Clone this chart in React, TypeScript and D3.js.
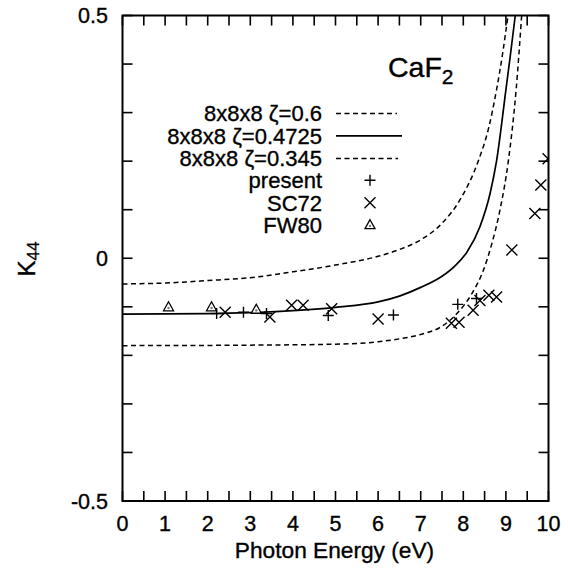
import React from "react";
import * as d3 from "d3";

// ---- data ----
const curveUpperX = [0, 1, 2, 3, 4, 5, 6, 6.5, 7, 7.5, 7.92, 8.35, 8.6, 8.78, 8.92, 9.05];
const curveUpperY = [-0.053, -0.051, -0.046, -0.04, -0.028, -0.014, 0.004, 0.018, 0.038, 0.072, 0.12, 0.2, 0.27, 0.347, 0.42, 0.5];

const curveMidX = [0, 2, 3, 4, 5, 6, 6.5, 7, 7.5, 7.8, 8.08, 8.39, 8.63, 8.78, 9.0, 9.1, 9.22];
const curveMidY = [-0.115, -0.114, -0.112, -0.108, -0.101, -0.09, -0.078, -0.06, -0.037, -0.016, 0.012, 0.065, 0.134, 0.2, 0.347, 0.415, 0.5];

const curveLowerX = [0, 3, 5, 6, 6.5, 7, 7.5, 7.85, 8.2, 8.47, 8.67, 8.86, 9.06, 9.24, 9.37];
const curveLowerY = [-0.18, -0.179, -0.177, -0.172, -0.166, -0.157, -0.14, -0.114, -0.073, -0.025, 0.03, 0.099, 0.202, 0.347, 0.5];

const presentX = [2.21, 2.84, 3.38, 4.83, 6.36, 7.87, 8.31];
const presentY = [-0.114, -0.111, -0.114, -0.118, -0.117, -0.095, -0.083];

const sc72X = [2.41, 3.46, 3.97, 4.24, 4.91, 6.0, 7.72, 7.9, 8.23, 8.39, 8.6, 8.78, 9.14, 9.68, 9.82, 9.99];
const sc72Y = [-0.111, -0.121, -0.097, -0.097, -0.104, -0.125, -0.134, -0.132, -0.107, -0.087, -0.076, -0.08, 0.017, 0.092, 0.151, 0.205];

const fw80X = [1.08, 2.09, 3.14];
const fw80Y = [-0.1, -0.1, -0.105];

const xTickLabels = ["0", "1", "2", "3", "4", "5", "6", "7", "8", "9", "10"];
const yTickLabels = ["-0.5", "0", "0.5"];
const legendLabels = ["8x8x8 \u03b6=0.6", "8x8x8 \u03b6=0.4725", "8x8x8 \u03b6=0.345", "present", "SC72", "FW80"];

// ---- layout ----
const W = 568, H = 574;
const L = 122.5, R = 548.5, T = 15.5, B = 501;
const FONT = "'Liberation Sans', Arial, Helvetica, sans-serif";
const TS = { stroke: "#000", strokeWidth: 0.35 };

export default function App() {
  const x = d3.scaleLinear().domain([0, 10]).range([L, R]);
  const y = d3.scaleLinear().domain([-0.5, 0.5]).range([B, T]);
  const line = d3.line<[number, number]>().x(d => x(d[0])).y(d => y(d[1])).curve(d3.curveMonotoneX);
  const pts = (xs: number[], ys: number[]) => xs.map((v, i) => [v, ys[i]] as [number, number]);

  const xMinor = d3.range(0, 10.01, 0.5);
  const yMinor = d3.range(-0.5, 0.501, 0.1);

  const plus = (cx: number, cy: number, k: string) => (
    <path key={k} d={`M${cx - 5.5},${cy}H${cx + 5.5}M${cx},${cy - 5.5}V${cy + 5.5}`} stroke="#000" strokeWidth={1.4} fill="none" />
  );
  const cross = (cx: number, cy: number, k: string) => (
    <path key={k} d={`M${cx - 5.5},${cy - 5.5}L${cx + 5.5},${cy + 5.5}M${cx - 5.5},${cy + 5.5}L${cx + 5.5},${cy - 5.5}`} stroke="#000" strokeWidth={1.4} fill="none" />
  );
  const tri = (cx: number, cy: number, k: string) => (
    <g key={k}>
      <path d={`M${cx},${cy - 5}L${cx + 5},${cy + 4}L${cx - 5},${cy + 4}Z`} stroke="#000" strokeWidth={1.3} fill="#fff" />
      <circle cx={cx} cy={cy + 1.2} r={1.2} fill="#777" />
    </g>
  );

  const legX = 322, legLine0 = 336, legSym = 370;
  const legY = [113.6, 135.8, 158.4, 180.3, 202.8, 224.7];
  const dash = "5,3.5";

  return (
    <svg width={W} height={H} style={{ position: "absolute", left: 0, top: 0, background: "#fff" }} fontFamily={FONT}>
      <rect width={W} height={H} fill="#fff" />
      <defs>
        <clipPath id="plot">
          <rect x={L} y={T} width={R - L} height={B - T} />
        </clipPath>
      </defs>

      {/* ticks */}
      {xMinor.map((v, i) => (
        <g key={"xt" + i}>
          <line x1={x(v)} x2={x(v)} y1={B} y2={B - 10} stroke="#000" strokeWidth={1.6} />
          <line x1={x(v)} x2={x(v)} y1={T} y2={T + 10} stroke="#000" strokeWidth={1.6} />
        </g>
      ))}
      {yMinor.map((v, i) => (
        <g key={"yt" + i}>
          <line x1={L} x2={L + 10} y1={y(v)} y2={y(v)} stroke="#000" strokeWidth={1.6} />
          <line x1={R} x2={R - 10} y1={y(v)} y2={y(v)} stroke="#000" strokeWidth={1.6} />
        </g>
      ))}

      {/* curves */}
      <g clipPath="url(#plot)" fill="none" stroke="#000">
        <path d={line(pts(curveUpperX, curveUpperY)) || ""} strokeWidth={1.5} strokeDasharray={dash} />
        <path d={line(pts(curveMidX, curveMidY)) || ""} strokeWidth={1.7} />
        <path d={line(pts(curveLowerX, curveLowerY)) || ""} strokeWidth={1.5} strokeDasharray={dash} />
      </g>

      {/* points */}
      <g clipPath="url(#plot)">
        {fw80X.map((v, i) => tri(x(v), y(fw80Y[i]), "f" + i))}
        {presentX.map((v, i) => plus(x(v), y(presentY[i]), "p" + i))}
        {sc72X.map((v, i) => cross(x(v), y(sc72Y[i]), "s" + i))}
      </g>

      {/* frame */}
      <rect x={L} y={T} width={R - L} height={B - T} fill="none" stroke="#000" strokeWidth={2} />

      {/* tick labels */}
      {xTickLabels.map((t, i) => (
        <text key={"xl" + i} x={x(+t)} y={531} textAnchor="middle" fontSize={21.5} {...TS}>{t}</text>
      ))}
      {yTickLabels.map((t, i) => (
        <text key={"yl" + i} x={108} y={y(+t) + 7.7} textAnchor="end" fontSize={21.5} {...TS}>{t}</text>
      ))}

      {/* axis labels */}
      <text x={(L + R) / 2 - 1} y={558} textAnchor="middle" fontSize={22.7} {...TS}>Photon Energy (eV)</text>
      <text transform="translate(35,259) rotate(-90)" textAnchor="middle" fontSize={24} {...TS}>
        K<tspan fontSize={17} dy={4}>44</tspan>
      </text>

      {/* annotation */}
      <text x={388} y={77} fontSize={28.5} {...TS}>
        CaF<tspan fontSize={21} dy={7}>2</tspan>
      </text>

      {/* legend */}
      {legendLabels.map((t, i) => (
        <text key={"lg" + i} x={legX} y={legY[i] + 7.8} textAnchor="end" fontSize={22} {...TS}>{t}</text>
      ))}
      <line x1={legLine0} x2={397} y1={legY[0]} y2={legY[0]} stroke="#000" strokeWidth={1.5} strokeDasharray={dash} />
      <line x1={legLine0} x2={402} y1={legY[1]} y2={legY[1]} stroke="#000" strokeWidth={1.7} />
      <line x1={legLine0} x2={398} y1={legY[2]} y2={legY[2]} stroke="#000" strokeWidth={1.5} strokeDasharray={dash} />
      {plus(legSym, legY[3], "lp")}
      {cross(legSym, legY[4], "lc")}
      {tri(legSym, legY[5], "lt")}
    </svg>
  );
}
